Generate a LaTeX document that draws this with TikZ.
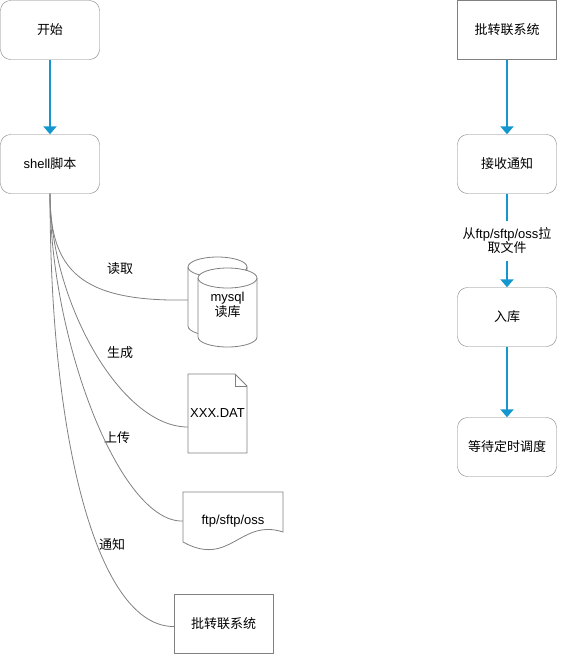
\documentclass[tikz,border=0pt]{standalone}
\usepackage{fontspec}
\setmainfont{Liberation Sans}
\newfontfamily\cjk{Noto Sans CJK SC}
\usetikzlibrary{arrows.meta}
\definecolor{flowblue}{HTML}{1497CF}
\definecolor{linegray}{HTML}{808080}

% cylinder, left x and top y
\newcommand{\dbcyl}[2]{%
  \filldraw[link,fill=white] (#1,#2+10) -- (#1,#2+69)
    arc[start angle=180,end angle=0,x radius=29.5,y radius=10] -- (#1+59,#2+10)
    arc[start angle=0,end angle=-180,x radius=29.5,y radius=10] -- cycle;
  \draw[link] (#1,#2+10) arc[start angle=180,end angle=0,x radius=29.5,y radius=10];}

\begin{document}
\begin{tikzpicture}[x=1pt,y=-1pt,
    every node/.style={font=\fontsize{13}{15}\selectfont},
    roundbox/.style={draw=linegray,rounded corners=10pt,minimum width=99pt,minimum height=59pt,inner sep=0pt},
    plainbox/.style={draw=linegray,minimum width=99pt,minimum height=59pt,inner sep=0pt},
    shapebox/.style={minimum width=59pt,minimum height=79pt,inner sep=0pt},
    docbox/.style={minimum width=100pt,minimum height=40pt,inner sep=0pt},
    flow/.style={draw=flowblue,line width=2pt},
    flowarrow/.style={flow,-{Triangle[width=13pt,length=8pt]}},
    link/.style={draw=linegray,line width=0.8pt}]
  \useasboundingbox (0,0) rectangle (567,654);

  % shapes on the left
  \dbcyl{188}{257}
  \dbcyl{198}{268}
  \draw[link,fill=white] (188,374) -- (235,374) -- (247,386) -- (247,453) -- (188,453) -- cycle;
  \draw[link] (235,374) -- (235,386) -- (247,386);
  \draw[link,fill=white] (183,492) -- (283,492) -- (283,532)
    .. controls (240,518) and (230,568) .. (183,542) -- cycle;

  \draw
    (50,30) node[roundbox] (start) {\cjk 开始}
    (50,164) node[roundbox] (shell) {shell\cjk 脚本}
    (217.5,296.5) node[shapebox] (dbback) {}
    (227.5,305) node[align=center] (db) {mysql\\\cjk 读库}
    (217.5,413.5) node[shapebox] (dat) {XXX.DAT}
    (233,521) node[docbox] (ftp) {ftp/sftp/oss}
    (223.5,623.5) node[plainbox] (notify) {\cjk 批转联系统}
    (120,269) node (lblread) {\cjk 读取}
    (120,353) node (lblmake) {\cjk 生成}
    (117,438) node (lblup) {\cjk 上传}
    (112,545) node (lblnote) {\cjk 通知};

  \draw
    (507,30) node[plainbox] (sys) {\cjk 批转联系统}
    (507,164) node[roundbox] (recv) {\cjk 接收通知}
    (507,241) node[fill=white,align=center,inner xsep=1pt,inner ysep=7pt,
      font=\fontsize{13}{14}\selectfont] (pull) {{\cjk 从}ftp/sftp/oss{\cjk 拉}\\\cjk 取文件}
    (507,317) node[roundbox] (store) {\cjk 入库}
    (507,447) node[roundbox] (wait) {\cjk 等待定时调度};

  \begin{scope}[link]
    \draw (shell.south) .. controls (50,270) and (80,302) .. ([yshift=-3.5pt]dbback.west);
    \draw (shell.south) .. controls (50,300) and (120,427) .. ([yshift=-13.5pt]dat.west);
    \draw (shell.south) .. controls (50,340) and (120,523) .. (ftp.west);
    \draw (shell.south) .. controls (50,450) and (100,627) .. ([yshift=-3pt]notify.west);
  \end{scope}

  \draw[flowarrow] (start) -- (shell);
  \draw[flowarrow] (sys) -- (recv);
  \draw[flow] (recv) -- (pull);
  \draw[flowarrow] (pull) -- (store);
  \draw[flowarrow] (store) -- (wait);
\end{tikzpicture}
\end{document}
